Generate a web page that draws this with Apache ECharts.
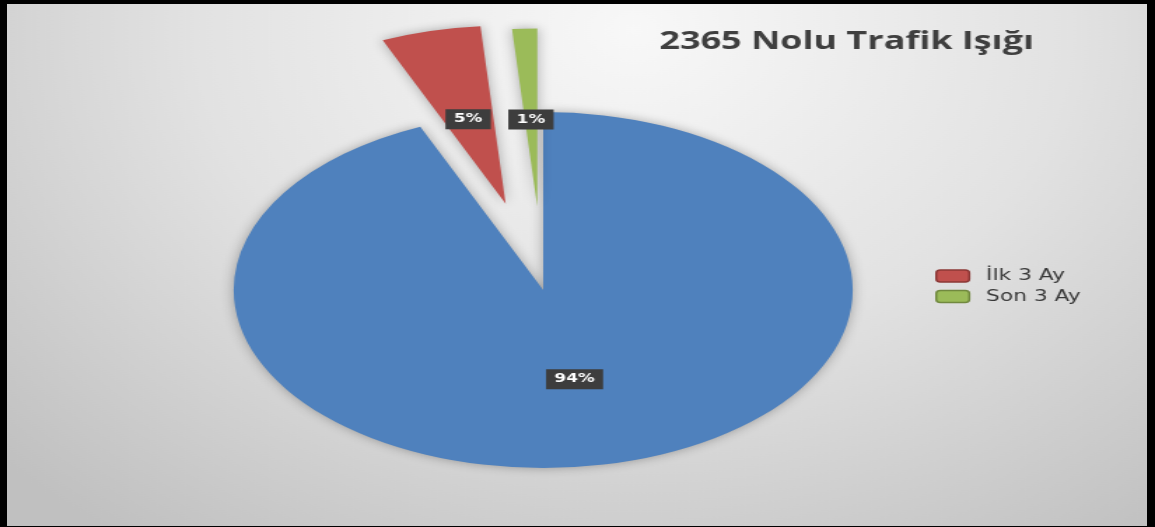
<!DOCTYPE html>
<html>
<head>
<meta charset="utf-8">
<script src="https://cdn.jsdelivr.net/npm/echarts@6/dist/echarts.min.js"></script>
<style>
  html, body { margin: 0; padding: 0; background: #000; width: 1155px; height: 527px; overflow: hidden; }
  /* the whole chart is stretched sideways, like the picture */
  #chart { position: absolute; left: 7px; top: 4px; width: 814px; height: 522px; transform: scaleX(1.4); transform-origin: 0 0; }
</style>
</head>
<body>
<div id="chart"></div>
<script>
const categories = ["Diğer", "İlk 3 Ay", "Son 3 Ay"];
const values = [93.5, 5.2, 1.3];
const percentLabels = ["94%", "5%", "1%"];
const legendNames = ["İlk 3 Ay", "Son 3 Ay"];
const explode = [0, 0.5, 0.47];

const colors = ["#4f81bd", "#c0504d", "#9bbb59"];
const borderColors = ["#385d8a", "#8c3836", "#71893f"];

//pie layout
const cx = 383, cy = 286, R = 178, sx = 1.242, labelRadius = 0.5;

const total = values.reduce((a, b) => a + b, 0);

//one slice per series, drawn as a sector
function renderSlice(params, api) {
  const i = params.seriesIndex;
  let before = 0;
  for (let k = 0; k < i; k++) before += values[k];
  const a0 = -Math.PI / 2 + (before / total) * Math.PI * 2;
  const a1 = a0 + (api.value(0) / total) * Math.PI * 2;
  const mid = (a0 + a1) / 2;
  const ox = Math.cos(mid) * explode[i] * R;
  const oy = Math.sin(mid) * explode[i] * R;
  const lx = ox + Math.cos(mid) * labelRadius * R;
  const ly = oy + Math.sin(mid) * labelRadius * R;
  return {
    type: "group",
    children: [
      {
        type: "group",
        x: cx,
        y: cy,
        scaleX: sx,
        children: [
          {
            type: "sector",
            shape: { cx: ox, cy: oy, r: R, r0: 0, startAngle: a0, endAngle: a1, clockwise: true },
            style: { fill: colors[i], shadowBlur: 10, shadowColor: "rgba(0,0,0,0.3)" },
          },
        ],
      },
      {
        type: "text",
        x: cx + lx * sx,
        y: cy + ly + 2,
        z2: 10,
        style: {
          text: percentLabels[i],
          font: 'bold 12px "DejaVu Sans"',
          fill: "#ffffff",
          backgroundColor: "#3d3d3d",
          padding: [4, 6],
          align: "center",
          verticalAlign: "middle",
        },
      },
    ],
  };
}

const chart = echarts.init(document.getElementById("chart"));

const option = {
  animation: false,
  backgroundColor: new echarts.graphic.RadialGradient(0.55, 0.05, 1.2, [
    { offset: 0, color: "#f8f8f8" },
    { offset: 0.5, color: "#e2e2e2" },
    { offset: 1, color: "#c0c0c0" },
  ]),
  title: {
    text: "2365 Nolu Trafik Işığı",
    left: 466,
    top: 25,
    padding: 0,
    textStyle: {
      fontFamily: "Open Sans",
      fontWeight: "bold",
      fontSize: 25.7,
      color: "#3f3f3f",
    },
  },
  legend: {
    orient: "vertical",
    left: 663,
    top: 264,
    padding: 0,
    itemWidth: 23.6,
    itemHeight: 12,
    itemGap: 4.5,
    icon: "roundRect",
    data: legendNames.map((n) => ({
      name: n,
      itemStyle: { borderColor: borderColors[categories.indexOf(n)], borderWidth: 1.5 },
    })),
    textStyle: {
      fontFamily: "DejaVu Sans",
      fontSize: 15.5,
      lineHeight: 16,
      color: "#383838",
      padding: [0, 0, 0, 7],
    },
  },
  series: categories.map((name, i) => ({
    name: name,
    type: "custom",
    coordinateSystem: "none",
    itemStyle: { color: colors[i] },
    data: [values[i]],
    renderItem: renderSlice,
  })),
};

chart.setOption(option);
</script>
</body>
</html>
